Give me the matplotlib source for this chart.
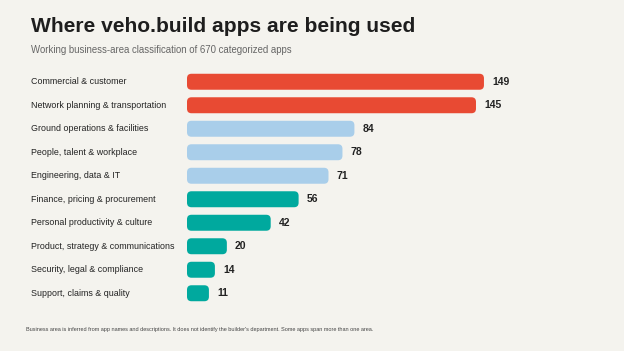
# Where veho.build apps are being used - horizontal bar chart

import matplotlib.pyplot as plt
import matplotlib.transforms as mtransforms
from matplotlib.patches import FancyBboxPatch

plt.rcParams['font.family'] = ['Liberation Sans', 'DejaVu Sans']

###### DATA ######

categories = [
    "Commercial & customer",
    "Network planning & transportation",
    "Ground operations & facilities",
    "People, talent & workplace",
    "Engineering, data & IT",
    "Finance, pricing & procurement",
    "Personal productivity & culture",
    "Product, strategy & communications",
    "Security, legal & compliance",
    "Support, claims & quality",
]
counts = [149, 145, 84, 78, 71, 56, 42, 20, 14, 11]
groups = ["top", "top", "mid", "mid", "mid", "low", "low", "low", "low", "low"]

colors = {"top": "#E84A33", "mid": "#A9CEEA", "low": "#00A99E"}
bg = "#F4F3EE"

###### PLOT ######

fig = plt.figure(figsize=(6.24, 3.51), dpi=100, facecolor=bg)
ax = fig.add_axes([187 / 624, 1 - 305 / 351, 413 / 624, 235 / 351])
ax.set_facecolor(bg)

ypos = list(range(len(categories)))
bars = ax.barh(ypos, counts, height=0.68, color=[colors[g] for g in groups])
ax.set_xlim(0, 413 / 1.993)
ax.set_ylim(len(categories) - 0.5, -0.5)
ax.axis("off")

# swap plain rectangles for rounded ones (radius ~5px)
px_x = 1.993   # px per unit in x
px_y = 23.4    # px per unit in y
r = 4.5
for b in bars:
    x, y = b.get_x(), b.get_y()
    w, h = b.get_width(), b.get_height()
    rx = r / px_x
    ry = r / px_y
    p = FancyBboxPatch((x + rx, y + ry), w - 2 * rx, h - 2 * ry,
                       boxstyle=f"round,pad={rx},rounding_size={rx}",
                       mutation_aspect=ry / rx,
                       facecolor=b.get_facecolor(), edgecolor="none")
    b.set_visible(False)
    ax.add_patch(p)

for yy, v in zip(ypos, counts):
    ax.text(v + 8 / px_x, yy, str(v), va="center", ha="left",
            fontsize=7.5, fontweight="bold", color="#222222")

trans = mtransforms.blended_transform_factory(fig.transFigure, ax.transData)
for yy, c in zip(ypos, categories):
    ax.text(31 / 624, yy, c, transform=trans, va="center", ha="left",
            fontsize=6.4, color="#222222")

fig.text(31 / 624, 1 - 26 / 351, "Where veho.build apps are being used",
         fontsize=15.1, fontweight="bold", color="#1E1E1E", va="center", ha="left")
fig.text(31 / 624, 1 - 50 / 351, "Working business-area classification of 670 categorized apps",
         fontsize=6.95, color="#666666", va="center", ha="left")
fig.text(26 / 624, 1 - 329 / 351,
         "Business area is inferred from app names and descriptions. It does not identify "
         "the builder's department. Some apps span more than one area.",
         fontsize=4.0, color="#444444", va="center", ha="left")

plt.savefig("out.png", dpi=100, facecolor=bg)
